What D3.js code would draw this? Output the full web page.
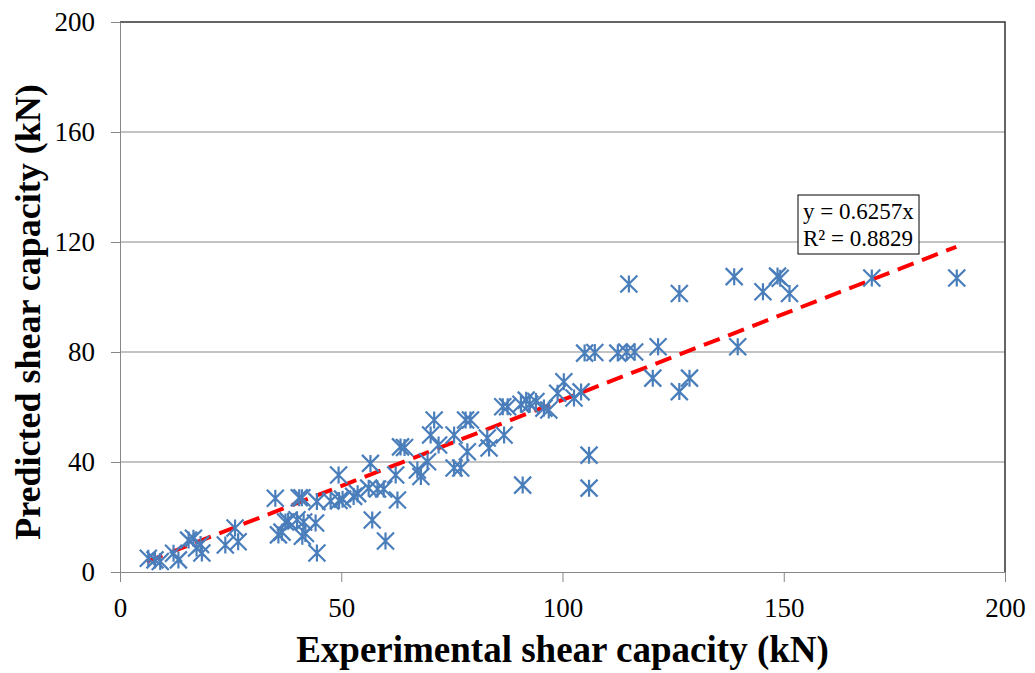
<!DOCTYPE html>
<html>
<head>
<meta charset="utf-8">
<script src="https://cdn.jsdelivr.net/npm/d3@7"></script>
<style>
  body { margin: 0; background: #fff; }
  text { font-family: "Liberation Serif", "Times New Roman", serif; }
</style>
</head>
<body>
<div class="shear-plot"></div>
<script>
// experimental vs predicted shear capacity (kN)
const experimental = [6.4, 7.9, 9.1, 12.1, 13.2, 15.5, 16.6, 17.3, 18.5, 18.2,
  23.8, 26, 26.7, 35.1, 37.4, 38, 35.8, 36.6, 40, 40.5, 41.1, 41.5, 41.2, 41.9,
  44.2, 44.5, 44.5, 47.6, 49.5, 50.3, 49.4, 52.8, 53.7, 56.2, 56.6, 57, 58.2,
  59.6, 60, 62.3, 62.7, 63.4, 64.3, 67.2, 68, 69.5, 71, 70.2, 72, 75.5, 75.5,
  77, 78.5, 78.1, 79.2, 83, 83.4, 86.8, 86.5, 87.6, 90.6, 91.8, 92.6, 94, 95.8,
  96.9, 98.9, 100.3, 102.6, 104.2, 91, 106, 106, 105, 107.3, 112.5, 114.5,
  116.3, 115, 120.4, 121.6, 126.4, 128.7, 126.4, 138.8, 139.6, 145.3, 148.6,
  149.2, 151.3, 169.9, 189.1];
const predicted = [5, 4.4, 3.8, 6.8, 4.4, 11.6, 12.3, 8.7, 6.9, 10,
  9.8, 16, 11, 26.8, 18.2, 18.5, 13.5, 14.5, 19, 27, 27, 18.2, 13, 14,
  17.8, 6.9, 25.6, 25.8, 26, 26.5, 35.3, 27.5, 28.5, 30.5, 39.5, 18.9, 30.2,
  30.2, 11.3, 35.3, 26.2, 45.5, 45.3, 37.1, 34.7, 40.1, 55.3, 49.8, 46.2, 49.8, 37.8,
  37.8, 43.7, 55.3, 55.3, 48.7, 45.1, 49.8, 60.1, 60.1, 61, 62.5, 61, 62, 59.6,
  58.9, 65, 69.2, 63.3, 65.5, 31.6, 42.5, 30.5, 79.6, 79.8, 79.6, 80,
  80, 104.7, 70.5, 81.9, 65.6, 70.5, 101.3, 107.4, 81.9, 101.9, 107.6,
  106.8, 101.3, 106.9, 106.9];

// linear trendline through origin
const slope = 0.6257;
const r2 = 0.8829;
const trendRange = [6, 189];

const xTicks = [0, 50, 100, 150, 200];
const yTicks = [0, 40, 80, 120, 160, 200];

const points = experimental.map((d, i) => ({x: d, y: predicted[i]}));

const width = 1035;
const height = 673;
const margin = {top: 22, right: 30, bottom: 101, left: 120};

const svg = d3.select('.shear-plot')
    .append('svg')
    .attr('width', width)
    .attr('height', height);

const x = d3.scaleLinear().domain([0, 200]).range([margin.left, width - margin.right]);
const y = d3.scaleLinear().domain([0, 200]).range([height - margin.bottom, margin.top]);

//gridlines
svg.selectAll('.grid')
    .data(yTicks.filter(d => d > 0 && d < 200))
    .enter()
    .append('line')
    .attr('x1', x(0))
    .attr('x2', x(200))
    .attr('y1', d => y(d))
    .attr('y2', d => y(d))
    .attr('stroke', '#878787')
    .attr('stroke-width', 1);

//plot frame top and right
svg.append('path')
    .attr('d', `M${x(0)},${y(200)}H${x(200)}V${y(0)}`)
    .attr('fill', 'none')
    .attr('stroke', '#333')
    .attr('stroke-width', 1.5);

//axes
const xAxis = svg.append('g')
    .attr('transform', `translate(0,${y(0)})`)
    .call(d3.axisBottom(x).tickValues(xTicks).tickSizeInner(10).tickSizeOuter(0).tickPadding(16));
const yAxis = svg.append('g')
    .attr('transform', `translate(${x(0)},0)`)
    .call(d3.axisLeft(y).tickValues(yTicks).tickSizeInner(9).tickSizeOuter(0).tickPadding(16));

[xAxis, yAxis].forEach(g => {
  g.select('.domain').attr('stroke', '#878787');
  g.selectAll('.tick line').attr('stroke', '#878787');
  g.selectAll('.tick text')
      .attr('font-family', '"Liberation Serif", serif')
      .attr('font-size', 27)
      .attr('fill', '#000');
});

//trendline
svg.append('line')
    .attr('x1', x(trendRange[0]))
    .attr('y1', y(trendRange[0] * slope))
    .attr('x2', x(trendRange[1]))
    .attr('y2', y(trendRange[1] * slope))
    .attr('stroke', '#ff0000')
    .attr('stroke-width', 4)
    .attr('stroke-dasharray', '17,9');

//star markers
const s = 8.5;
svg.selectAll('.pt')
    .data(points)
    .enter()
    .append('path')
    .attr('transform', d => `translate(${x(d.x)},${y(d.y)})`)
    .attr('d', `M${-s},${-s}L${s},${s}M${-s},${s}L${s},${-s}M0,${-s}V${s}`)
    .attr('fill', 'none')
    .attr('stroke', '#4a7ebb')
    .attr('stroke-width', 2.2);

//equation label
const box = svg.append('g').attr('transform', 'translate(798,195)');
box.append('rect')
    .attr('width', 121)
    .attr('height', 59)
    .attr('fill', '#fff')
    .attr('stroke', '#000')
    .attr('stroke-width', 1);
box.append('text')
    .attr('x', 5).attr('y', 24)
    .attr('font-size', 23)
    .text('y = ' + slope + 'x');
box.append('text')
    .attr('x', 5).attr('y', 51)
    .attr('font-size', 23)
    .text('R² = ' + r2);

//axis titles
svg.append('text')
    .attr('x', (x(0) + x(200)) / 2)
    .attr('y', 662)
    .attr('text-anchor', 'middle')
    .attr('font-size', 37)
    .attr('font-weight', 'bold')
    .text('Experimental shear capacity (kN)');
svg.append('text')
    .attr('transform', 'translate(40,312) rotate(-90)')
    .attr('text-anchor', 'middle')
    .attr('font-size', 36)
    .attr('font-weight', 'bold')
    .text('Predicted shear capacity (kN)');
</script>
</body>
</html>
